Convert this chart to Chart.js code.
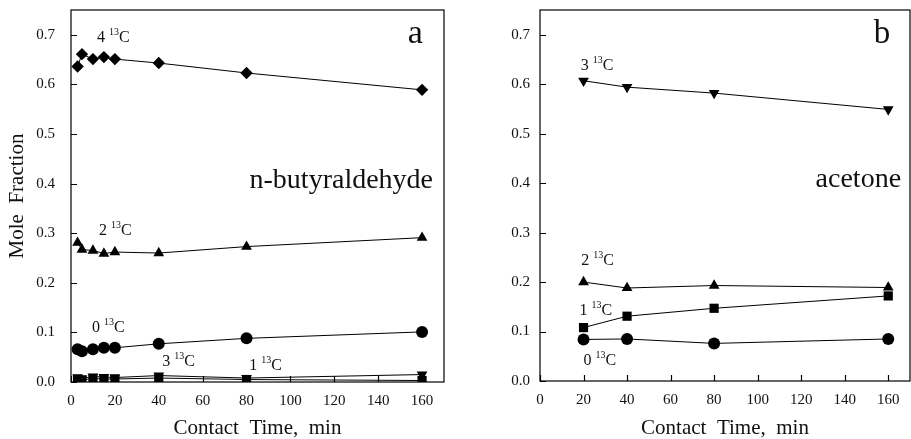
<!DOCTYPE html>
<html>
<head>
<meta charset="utf-8">
<script src="https://cdn.jsdelivr.net/npm/chart.js@4.4.0/dist/chart.umd.min.js"></script>
<style>
  body { margin: 0; background: #fff; overflow: hidden; }
  #wrap { position: relative; width: 911px; height: 439px; }
  canvas { position: absolute; top: 0; }
</style>
</head>
<body>
<div id="wrap">
  <canvas id="chartA" width="460" height="439" style="left:0"></canvas>
  <canvas id="chartB" width="451" height="439" style="left:460px"></canvas>
</div>
<script>
// panel a - n-butyraldehyde
var timesA = [3, 5, 10, 15, 20, 40, 80, 160];
var a4C = [0.636, 0.661, 0.651, 0.655, 0.651, 0.643, 0.623, 0.589];
var a2C = [0.281, 0.267, 0.265, 0.259, 0.262, 0.260, 0.273, 0.291];
var a0C = [0.066, 0.062, 0.066, 0.069, 0.069, 0.077, 0.088, 0.101];
var a3C = [0.009, 0.007, 0.011, 0.010, 0.009, 0.013, 0.008, 0.015];
var a1C = [0.006, 0.004, 0.007, 0.006, 0.006, 0.008, 0.005, 0.003];

// panel b - acetone
var timesB = [20, 40, 80, 160];
var b3C = [0.607, 0.594, 0.582, 0.549];
var b2C = [0.200, 0.188, 0.193, 0.189];
var b1C = [0.108, 0.131, 0.147, 0.172];
var b0C = [0.084, 0.085, 0.076, 0.085];

// tick labels
var xTicks = [0, 20, 40, 60, 80, 100, 120, 140, 160];
var yTicks = [0, 0.1, 0.2, 0.3, 0.4, 0.5, 0.6, 0.7];

var serif = "'Liberation Serif', 'DejaVu Serif', serif";

function serie(xs, ys, estilo, rot) {
    return {
        data: xs.map(function (x, i) { return { x: x, y: ys[i] }; }),
        showLine: true,
        borderColor: '#000',
        borderWidth: 1,
        backgroundColor: '#000',
        pointStyle: estilo,
        pointRotation: rot || 0,
        pointRadius: estilo === 'rect' ? 6.5 : (estilo === 'circle' ? 6 : 6.2),
        pointBorderWidth: 0
    };
}

// marco, ticks hacia dentro y etiquetas de texto
var marcoPlugin = {
    id: 'marco',
    afterDraw: function (chart, args, opts) {
        var ctx = chart.ctx;
        var a = chart.chartArea;
        var sx = chart.scales.x, sy = chart.scales.y;
        ctx.save();
        ctx.strokeStyle = '#000';
        ctx.lineWidth = 1.2;
        ctx.strokeRect(a.left, a.top, a.right - a.left, a.bottom - a.top);
        ctx.beginPath();
        xTicks.forEach(function (v) {
            var px = Math.round(sx.getPixelForValue(v)) + 0.5;
            ctx.moveTo(px, a.bottom);
            ctx.lineTo(px, a.bottom - 6);
        });
        yTicks.forEach(function (v) {
            var py = Math.round(sy.getPixelForValue(v)) + 0.5;
            ctx.moveTo(a.left, py);
            ctx.lineTo(a.left + 6, py);
        });
        ctx.stroke();

        ctx.fillStyle = '#111';
        ctx.textBaseline = 'alphabetic';
        (opts.etiquetas || []).forEach(function (e) {
            var x = sx.getPixelForValue(e.x), y = sy.getPixelForValue(e.y);
            ctx.textAlign = 'left';
            ctx.font = '16px ' + serif;
            ctx.fillText(e.n + ' ', x, y);
            x += ctx.measureText(e.n + ' ').width;
            ctx.font = '10px ' + serif;
            ctx.fillText('13', x, y - 7);
            x += ctx.measureText('13').width;
            ctx.font = '16px ' + serif;
            ctx.fillText('C', x, y);
        });
        (opts.textos || []).forEach(function (t) {
            ctx.textAlign = 'right';
            ctx.font = t.size + 'px ' + serif;
            ctx.fillText(t.s, sx.getPixelForValue(t.x), sy.getPixelForValue(t.y));
        });
        ctx.restore();
    }
};

function crearGrafica(id, datasets, cfg) {
    return new Chart(document.getElementById(id), {
        type: 'scatter',
        data: { datasets: datasets },
        plugins: [marcoPlugin],
        options: {
            responsive: false,
            animation: false,
            layout: { autoPadding: false, padding: { left: 0, top: 10, right: cfg.padRight, bottom: 0 } },
            plugins: {
                legend: { display: false },
                tooltip: { enabled: false },
                marco: { etiquetas: cfg.etiquetas, textos: cfg.textos }
            },
            scales: {
                x: {
                    type: 'linear',
                    min: 0,
                    max: 170,
                    afterBuildTicks: function (s) { s.ticks = xTicks.map(function (v) { return { value: v }; }); },
                    afterFit: function (s) { s.height = cfg.xHeight; s.paddingLeft = 0; s.paddingRight = 0; },
                    grid: { display: false, drawTicks: false },
                    border: { display: false },
                    ticks: { color: '#111', padding: 10, maxRotation: 0, font: { family: serif, size: 15 } },
                    title: { display: true, text: 'Contact  Time,  min', color: '#111', padding: { top: 0, bottom: 0 }, font: { family: serif, size: 21, lineHeight: 1 } }
                },
                y: {
                    min: 0,
                    max: 0.75,
                    afterBuildTicks: function (s) { s.ticks = yTicks.map(function (v) { return { value: v }; }); },
                    afterFit: function (s) { s.width = cfg.yWidth; s.paddingTop = 0; s.paddingBottom = 0; },
                    grid: { display: false, drawTicks: false },
                    border: { display: false },
                    ticks: { color: '#111', padding: cfg.yPad, font: { family: serif, size: 15 },
                        callback: function (v) { return v.toFixed(1); } },
                    title: { display: cfg.yTitle, text: 'Mole  Fraction', color: '#111', padding: { top: 7, bottom: 0 }, font: { family: serif, size: 21, lineHeight: 1 } }
                }
            }
        }
    });
}

window.addEventListener('load', function () {
    // el primer dataset se dibuja encima
    crearGrafica('chartA', [
        serie(timesA, a4C, 'rectRot'),
        serie(timesA, a2C, 'triangle'),
        serie(timesA, a0C, 'circle'),
        serie(timesA, a1C, 'rect'),
        serie(timesA, a3C, 'triangle', 180)
    ], {
        padRight: 16, xHeight: 57, yWidth: 71, yPad: 16, yTitle: true,
        etiquetas: [
            { n: '4', x: 11.9, y: 0.685 },
            { n: '2', x: 12.8, y: 0.297 },
            { n: '0', x: 9.6, y: 0.100 },
            { n: '3', x: 41.6, y: 0.032 },
            { n: '1', x: 81.2, y: 0.024 }
        ],
        textos: [
            { s: 'a', x: 160.4, y: 0.683, size: 34 },
            { s: 'n-butyraldehyde', x: 165, y: 0.391, size: 28 }
        ]
    });

    crearGrafica('chartB', [
        serie(timesB, b3C, 'triangle', 180),
        serie(timesB, b2C, 'triangle'),
        serie(timesB, b1C, 'rect'),
        serie(timesB, b0C, 'circle')
    ], {
        padRight: 1, xHeight: 58, yWidth: 80, yPad: 10, yTitle: false,
        etiquetas: [
            { n: '3', x: 18.7, y: 0.628 },
            { n: '2', x: 19, y: 0.235 },
            { n: '1', x: 18.2, y: 0.134 },
            { n: '0', x: 20, y: 0.032 }
        ],
        textos: [
            { s: 'b', x: 160.9, y: 0.684, size: 33 },
            { s: 'acetone', x: 165.9, y: 0.393, size: 28 }
        ]
    });
});
</script>
</body>
</html>
